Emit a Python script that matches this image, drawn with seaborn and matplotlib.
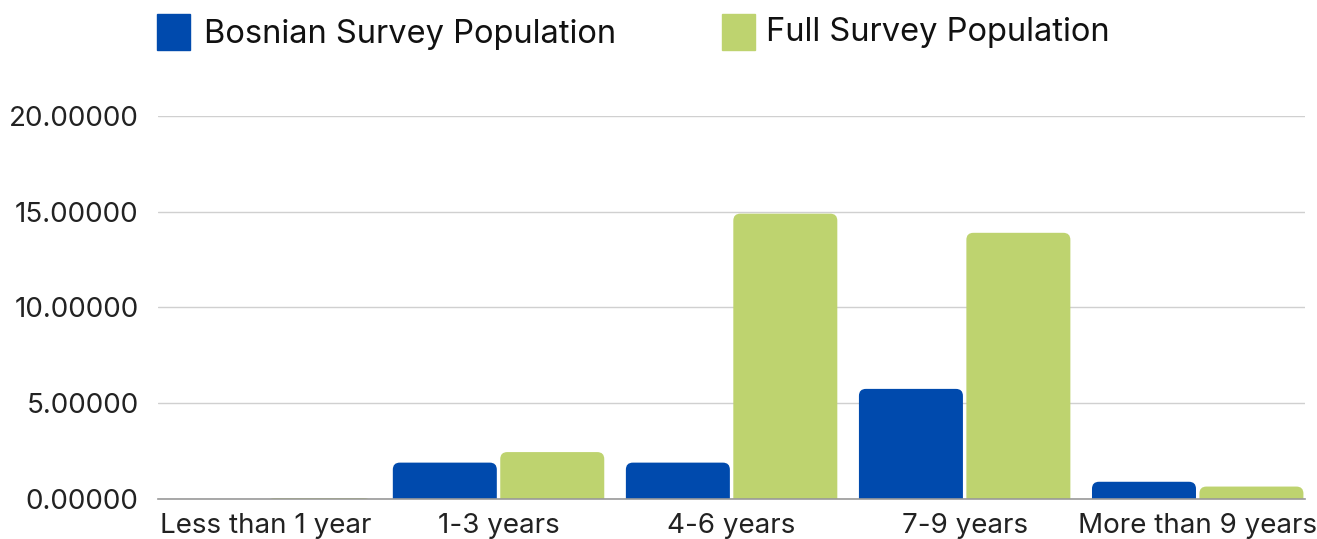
import numpy as np
import pandas as pd
import seaborn as sns
import matplotlib.pyplot as plt
from matplotlib.patches import FancyBboxPatch

# values
categories = ['Less than 1 year', '1-3 years', '4-6 years', '7-9 years', 'More than 9 years']
bosnian = [0.0, 1.9, 1.9, 5.75, 0.9]
full = [0.05, 2.45, 14.9, 13.9, 0.65]
series = ['Bosnian Survey Population', 'Full Survey Population']
colors = ['#004AAD', '#BED36F']

df = pd.DataFrame({
    'category': categories * 2,
    'value': bosnian + full,
    'series': [series[0]] * len(categories) + [series[1]] * len(categories),
})

sns.set_theme(style='white')
plt.rcParams['font.family'] = ['Inter', 'DejaVu Sans']

fig = plt.figure(figsize=(13.17, 5.39), dpi=100)
ax = fig.add_axes([0.12, 0.0742, 0.871, 0.7106])

bw = 0.922
sns.barplot(data=df, x='category', y='value', hue='series', palette=colors,
            width=bw, gap=0.032, ax=ax, legend=False, saturation=1)

ax.set_xlim(-bw / 2, len(categories) - 1 + bw / 2)
ax.set_ylim(0, 20)
ax.set_yticks([0, 5, 10, 15, 20])
ax.set_yticklabels([f'{v:.5f}' for v in [0, 5, 10, 15, 20]])
ax.yaxis.grid(True, color='#d0d0d0', linewidth=1)
ax.set_axisbelow(True)
ax.set_xlabel('')
ax.set_ylabel('')
for s in ['left', 'right', 'top']:
    ax.spines[s].set_visible(False)
ax.spines['bottom'].set_color('#999999')
ax.spines['bottom'].set_linewidth(1.2)
ax.spines['bottom'].set_zorder(5)
ax.tick_params(axis='both', length=0, labelsize=20, colors='#222222')
ax.tick_params(axis='y', pad=14)
ax.tick_params(axis='x', pad=10)

# rounded tops on the bars
fig.canvas.draw()
xpp = (ax.get_xlim()[1] - ax.get_xlim()[0]) / ax.get_window_extent().width
ypp = 20 / ax.get_window_extent().height
rad = 7 * xpp
for p in list(ax.patches):
    x, w, h = p.get_x(), p.get_width(), p.get_height()
    fc = p.get_facecolor()
    p.remove()
    if h <= 0:
        continue
    ax.add_patch(FancyBboxPatch((x, -2), w, h + 2,
                                boxstyle=f'round,pad=0,rounding_size={rad}',
                                mutation_aspect=ypp / xpp, facecolor=fc,
                                edgecolor='none', zorder=3))

# legend
fig.patches.append(plt.Rectangle((157 / 1317, 1 - 50 / 539), 33 / 1317, 36 / 539,
                                 transform=fig.transFigure, color=colors[0]))
fig.text(204 / 1317, 1 - 35 / 539, series[0], fontsize=23.5, va='center', color='#111111')
fig.patches.append(plt.Rectangle((722 / 1317, 1 - 50 / 539), 33 / 1317, 36 / 539,
                                 transform=fig.transFigure, color=colors[1]))
fig.text(766 / 1317, 1 - 32 / 539, series[1], fontsize=23.5, va='center', color='#111111')

fig.savefig('out.png', dpi=100)
